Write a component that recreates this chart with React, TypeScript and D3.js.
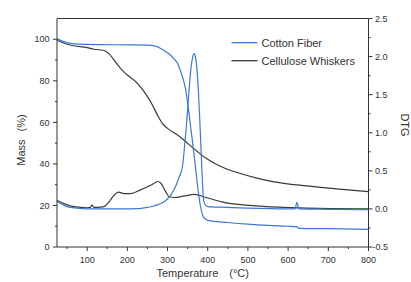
import * as d3 from "d3";

// TG curves (mass %, left axis) and DTG curves (right axis)
const cottonTG: [number, number][] = [
  [25, 100.3], [40, 99], [62, 97.9], [100, 97.5], [200, 97.3], [250, 97.2], [270, 96.7],
  [283, 95.6], [296, 94], [308, 92.3], [317, 90.3], [325, 88.4], [331, 85.5], [337, 82],
  [342, 78.5], [346, 74.7], [350, 69.5], [354, 63.5], [357, 58.5], [360, 54], [364, 47.5],
  [370, 37.5], [376, 27.5], [382, 19.5], [388, 15], [395, 13.3], [400, 12.8], [450, 11.8],
  [500, 11.0], [550, 10.4], [600, 10.0], [621, 9.8], [627, 9.0], [700, 8.8], [800, 8.5],
];
const whiskerTG: [number, number][] = [
  [25, 99.5], [40, 98.3], [62, 97.0], [100, 96.0], [117, 95.2], [142, 94.6], [154, 93.1],
  [167, 90], [183, 86], [200, 82.8], [225, 78.8], [242, 74.7], [258, 69.9], [275, 63.5],
  [287, 59.5], [300, 57.1], [325, 53.9], [350, 49.9], [396, 42.7], [430, 39], [479, 35.5],
  [520, 33.3], [562, 31.5], [646, 29.4], [720, 28], [800, 26.7],
];
const cottonDTG: [number, number][] = [
  [25, 0.1], [50, 0.03], [75, 0.01], [100, 0.0], [183, 0.0], [230, 0.005], [250, 0.02],
  [283, 0.07], [300, 0.13], [317, 0.26], [329, 0.42], [337, 0.55], [342, 0.8], [347, 1.1],
  [352, 1.45], [357, 1.78], [362, 1.98], [366, 2.04], [370, 1.98], [374, 1.78], [378, 1.42],
  [382, 0.95], [386, 0.45], [389, 0.16], [392, 0.07], [400, 0.03], [450, 0.02], [500, 0.01],
  [600, 0.0], [617, 0.0], [622, 0.085], [627, 0.0], [700, -0.005], [800, -0.01],
];
const whiskerDTG: [number, number][] = [
  [25, 0.11], [42, 0.07], [67, 0.03], [100, 0.015], [108, 0.02], [112, 0.05], [117, 0.02],
  [125, 0.02], [142, 0.03], [154, 0.09], [167, 0.18], [178, 0.22], [192, 0.2], [208, 0.2],
  [233, 0.25], [258, 0.31], [277, 0.36], [283, 0.34], [296, 0.22], [304, 0.16], [317, 0.15],
  [342, 0.17], [367, 0.19], [396, 0.15], [437, 0.09], [521, 0.04], [646, 0.01], [800, 0.0],
];

const xTicks = [100, 200, 300, 400, 500, 600, 700, 800];
const xMinor = [50, 150, 250, 350, 450, 550, 650, 750];
const massTicks = [0, 20, 40, 60, 80, 100];
const massMinor = [10, 30, 50, 70, 90];
const dtgTicks = [-0.5, 0, 0.5, 1, 1.5, 2, 2.5];
const dtgMinor = [-0.25, 0.25, 0.75, 1.25, 1.75, 2.25];

const BLUE = "#3b79d6";
const DARK = "#3a3a3a";
const AXIS = "#333";
const FONT = "'Liberation Sans', Arial, sans-serif";

export default function App() {
  const W = 411;
  const H = 282;
  const left = 57;
  const right = 368.5;
  const top = 18.5;
  const bottom = 247;

  const x = d3.scaleLinear().domain([25, 800]).range([left, right]);
  const yMass = d3.scaleLinear().domain([0, 110]).range([bottom, top]);
  const yDtg = d3.scaleLinear().domain([-0.5, 2.5]).range([bottom, top]);

  const lineMass = d3
    .line<[number, number]>()
    .x((d) => x(d[0]))
    .y((d) => yMass(d[1]))
    .curve(d3.curveMonotoneX);
  const lineDtg = d3
    .line<[number, number]>()
    .x((d) => x(d[0]))
    .y((d) => yDtg(d[1]))
    .curve(d3.curveMonotoneX);

  return (
    <div style={{ position: "fixed", left: 0, top: 0 }}>
      <svg width={W} height={H} style={{ display: "block", background: "#fff" }} fontFamily={FONT}>
        {/* curves */}
        <g fill="none" strokeWidth={1.2}>
          <path d={lineDtg(whiskerDTG)!} stroke={DARK} />
          <path d={lineMass(whiskerTG)!} stroke={DARK} />
          <path d={lineDtg(cottonDTG)!} stroke={BLUE} />
          <path d={lineMass(cottonTG)!} stroke={BLUE} />
        </g>

        {/* frame */}
        <g stroke={AXIS} strokeWidth={1} fill="none">
          <line x1={left} x2={right} y1={top} y2={top} />
          <line x1={left} x2={right} y1={bottom} y2={bottom} />
          <line x1={left} x2={left} y1={top} y2={bottom} />
          <line x1={right} x2={right} y1={top} y2={bottom} />
        </g>

        {/* x axis */}
        <g stroke={AXIS}>
          {xTicks.map((t) => (
            <line key={t} x1={x(t)} x2={x(t)} y1={bottom} y2={bottom + 4} />
          ))}
          {xMinor.map((t) => (
            <line key={t} x1={x(t)} x2={x(t)} y1={bottom} y2={bottom + 2} />
          ))}
        </g>
        <g fontSize={9} fill={AXIS} textAnchor="middle">
          {xTicks.map((t) => (
            <text key={t} x={x(t)} y={262.5}>
              {t}
            </text>
          ))}
        </g>

        {/* left axis */}
        <g stroke={AXIS}>
          {massTicks.map((t) => (
            <line key={t} x1={left - 4} x2={left} y1={yMass(t)} y2={yMass(t)} />
          ))}
          {massMinor.map((t) => (
            <line key={t} x1={left - 2} x2={left} y1={yMass(t)} y2={yMass(t)} />
          ))}
        </g>
        <g fontSize={9} fill={AXIS} textAnchor="end">
          {massTicks.map((t) => (
            <text key={t} x={49.5} y={yMass(t) + 3.2}>
              {t}
            </text>
          ))}
        </g>

        {/* right axis */}
        <g stroke={AXIS}>
          {dtgTicks.map((t) => (
            <line key={t} x1={right} x2={right + 4} y1={yDtg(t)} y2={yDtg(t)} />
          ))}
          {dtgMinor.map((t) => (
            <line key={t} x1={right} x2={right + 2} y1={yDtg(t)} y2={yDtg(t)} />
          ))}
        </g>
        <g fontSize={9} fill={AXIS} textAnchor="start">
          {dtgTicks.map((t) => (
            <text key={t} x={t < 0 ? 372.5 : 375} y={yDtg(t) + 3.2}>
              {t.toFixed(1)}
            </text>
          ))}
        </g>

        {/* axis titles */}
        <text x={156.5} y={277} fontSize={11} fill={AXIS}>
          Temperature
          <tspan dx={11}>(°C)</tspan>
        </text>
        <text transform="translate(24.5,140) rotate(-90)" fontSize={11} fill={AXIS} textAnchor="middle">
          Mass<tspan dx={8}>(%)</tspan>
        </text>
        <text transform="translate(401,125) rotate(90)" fontSize={11} fill={AXIS} textAnchor="middle">
          DTG
        </text>

        {/* legend */}
        <line x1={231.5} x2={257.5} y1={42.7} y2={42.7} stroke={BLUE} strokeWidth={1.3} />
        <text x={261.5} y={46.6} fontSize={11} fill={AXIS}>
          Cotton Fiber
        </text>
        <line x1={231.5} x2={257.5} y1={60.7} y2={60.7} stroke={DARK} strokeWidth={1.3} />
        <text x={261.5} y={64.6} fontSize={11} fill={AXIS}>
          Cellulose Whiskers
        </text>
      </svg>
    </div>
  );
}
